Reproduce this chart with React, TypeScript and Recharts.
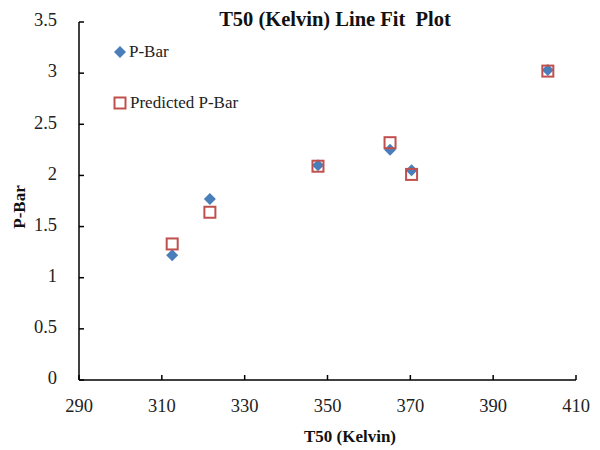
import React from 'react';
import { ScatterChart, Scatter, XAxis, YAxis } from 'recharts';

const tempK = [312.5, 321.6, 347.7, 365.1, 370.3, 403.2];
const pBar = [1.22, 1.77, 2.1, 2.25, 2.05, 3.03];
const predictedPBar = [1.33, 1.64, 2.09, 2.32, 2.01, 3.02];
const xTicks = [290, 310, 330, 350, 370, 390, 410];
const yTicks = [0, 0.5, 1, 1.5, 2, 2.5, 3, 3.5];

const pBarData = tempK.map((t, i) => ({ x: t, y: pBar[i] }));
const predData = tempK.map((t, i) => ({ x: t, y: predictedPBar[i] }));

const BLUE = '#4A7EBB';
const RED = '#C0504D';
const FONT = '"Liberation Serif", "Times New Roman", serif';

const XTick = (props: any) => {
  const { x, y, payload } = props;
  return (
    <g>
      <line x1={x} x2={x} y1={y} y2={y - 5} stroke="#000" strokeWidth={1.5} />
      <text x={x} y={y + 28} textAnchor="middle" dominantBaseline="middle" fontFamily={FONT} fontSize={18.5} fill="#222">
        {payload.value}
      </text>
    </g>
  );
};

const YTick = (props: any) => {
  const { x, y, payload } = props;
  return (
    <g>
      <line x1={x} x2={x + 5} y1={y} y2={y} stroke="#000" strokeWidth={1.5} />
      <text x={x - 22} y={y} textAnchor="end" dominantBaseline="middle" fontFamily={FONT} fontSize={18.5} fill="#222">
        {payload.value}
      </text>
    </g>
  );
};

const Diamond = (props: any) => {
  const { cx, cy } = props;
  const r = 6;
  return <polygon points={`${cx},${cy - r} ${cx + r},${cy} ${cx},${cy + r} ${cx - r},${cy}`} fill={BLUE} />;
};

const Square = (props: any) => {
  const { cx, cy } = props;
  const s = 11;
  return <rect x={cx - s / 2} y={cy - s / 2} width={s} height={s} fill="none" stroke={RED} strokeWidth={2} />;
};

const YLabel = () => (
  <text
    x={21}
    y={207}
    transform="rotate(-90 21 207)"
    textAnchor="middle"
    dominantBaseline="middle"
    fontFamily={FONT}
    fontSize={17}
    fontWeight="bold"
    fill="#111"
  >
    P-Bar
  </text>
);

const XLabel = () => (
  <text x={350} y={438} textAnchor="middle" dominantBaseline="middle" fontFamily={FONT} fontSize={17} fontWeight="bold" fill="#111">
    T50 (Kelvin)
  </text>
);

export default function App() {
  return (
    <div style={{ position: 'absolute', left: 0, top: 0, width: 600, height: 450, background: '#fff' }}>
      <ScatterChart width={600} height={450} margin={{ top: 22, right: 24, bottom: 40, left: 0 }}>
        <XAxis
          type="number"
          dataKey="x"
          domain={[290, 410]}
          ticks={xTicks}
          allowDataOverflow
          axisLine={{ stroke: '#000', strokeWidth: 1.5 }}
          tickLine={false}
          tickSize={0}
          tickMargin={0}
          tick={<XTick />}
          height={30}
          interval={0}
          label={{ content: () => <XLabel /> }}
        />
        <YAxis
          type="number"
          dataKey="y"
          domain={[0, 3.5]}
          ticks={yTicks}
          allowDataOverflow
          axisLine={{ stroke: '#000', strokeWidth: 1.5 }}
          tickLine={false}
          tickSize={0}
          tickMargin={0}
          tick={<YTick />}
          width={79}
          interval={0}
          label={{ content: () => <YLabel /> }}
        />
        <Scatter name="P-Bar" data={pBarData} shape={<Diamond />} isAnimationActive={false} />
        <Scatter name="Predicted P-Bar" data={predData} shape={<Square />} isAnimationActive={false} />
      </ScatterChart>
      <div style={{ position: 'absolute', left: 113, top: 40, fontFamily: FONT, fontSize: 17, color: '#222' }}>
        <div style={{ display: 'flex', alignItems: 'center', height: 24 }}>
          <svg width={14} height={14} style={{ marginRight: 2 }}>
            <polygon points="7,1 13,7 7,13 1,7" fill={BLUE} />
          </svg>
          <span>P-Bar</span>
        </div>
        <div style={{ display: 'flex', alignItems: 'center', height: 24, marginTop: 27 }}>
          <svg width={14} height={14} style={{ marginRight: 3 }}>
            <rect x={1.5} y={1.5} width={11} height={11} fill="none" stroke={RED} strokeWidth={2} />
          </svg>
          <span>Predicted P-Bar</span>
        </div>
      </div>
      <div
        style={{
          position: 'absolute',
          left: 0,
          width: 670,
          top: 8,
          textAlign: 'center',
          fontFamily: FONT,
          fontWeight: 'bold',
          fontSize: 20.5,
          color: '#111',
          whiteSpace: 'pre',
        }}
      >
        T50 (Kelvin) Line Fit  Plot
      </div>
    </div>
  );
}
